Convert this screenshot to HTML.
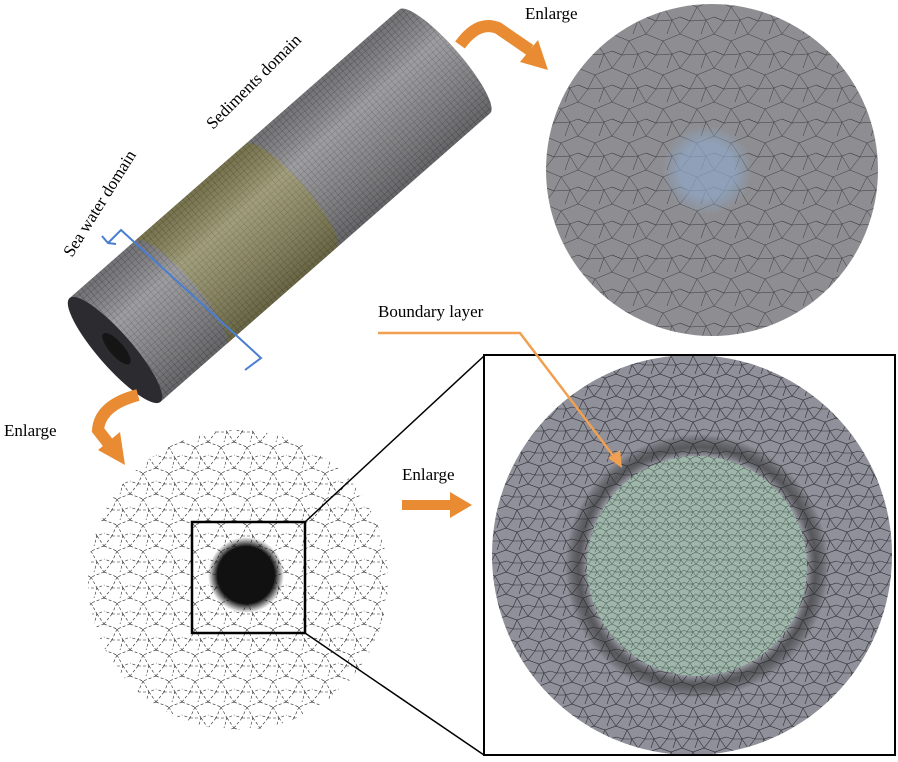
<!DOCTYPE html>
<html><head><meta charset="utf-8"><style>
html,body{margin:0;padding:0;background:#fff;}
svg{display:block;font-family:"Liberation Serif",serif;}
</style></head><body>
<svg width="898" height="762" viewBox="0 0 898 762" xmlns="http://www.w3.org/2000/svg">
<defs>
<pattern id="meshG" width="34" height="34" patternUnits="userSpaceOnUse">
<rect width="34" height="34" fill="#8e8e92"/>
<path d="M0 0L17 7L34 0M17 7L10 21L0 17M17 7L26 20L34 17M10 21L26 20L21 34M10 21L0 34M26 20L34 34M0 17L10 21" stroke="#3a3a3e" stroke-width="0.5" fill="none"/>
</pattern>
<pattern id="meshG2" width="22" height="22" patternUnits="userSpaceOnUse">
<rect width="22" height="22" fill="#8f9099"/>
<path d="M0 0L11 4L22 0M11 4L7 13L0 11M11 4L16 13L22 11M7 13L16 13L13 22M7 13L0 22M16 13L22 22" stroke="#2e2e34" stroke-width="0.6" fill="none"/>
</pattern>
<pattern id="meshGreen" width="12" height="12" patternUnits="userSpaceOnUse">
<rect width="12" height="12" fill="#9fb7ab"/>
<path d="M0 0L6 3L12 0M6 3L3 8L0 6M6 3L9 8L12 6M3 8L9 8L7 12M3 8L0 12M9 8L12 12" stroke="#3c4a44" stroke-width="0.5" fill="none"/>
</pattern>
<pattern id="meshW" width="26" height="26" patternUnits="userSpaceOnUse">
<rect width="26" height="26" fill="#fff"/>
<path d="M0 0L13 5L26 0M13 5L8 16L0 13M13 5L19 16L26 13M8 16L19 16L16 26M8 16L0 26M19 16L26 26" stroke="#222" stroke-width="0.6" stroke-dasharray="3 2" fill="none"/>
</pattern>
<pattern id="cyl" width="5" height="5" patternUnits="userSpaceOnUse">
<rect width="5" height="5" fill="#86868a"/>
<path d="M0 0H5M0 0V5" stroke="#3c3c40" stroke-width="0.6"/>
</pattern>
<pattern id="cylY" width="5" height="5" patternUnits="userSpaceOnUse">
<rect width="5" height="5" fill="#8a865a"/>
<path d="M0 0H5M0 0V5" stroke="#4a4830" stroke-width="0.6"/>
</pattern>
<linearGradient id="shade" x1="0" y1="0" x2="0" y2="1">
<stop offset="0" stop-color="#000" stop-opacity="0.15"/>
<stop offset="0.35" stop-color="#fff" stop-opacity="0.2"/>
<stop offset="1" stop-color="#000" stop-opacity="0.25"/>
</linearGradient>
<radialGradient id="blob" cx="50%" cy="50%" r="50%">
<stop offset="75%" stop-color="#111"/>
<stop offset="100%" stop-color="#111" stop-opacity="0"/>
</radialGradient>
<radialGradient id="ring" cx="50%" cy="50%" r="50%">
<stop offset="84%" stop-color="#000" stop-opacity="0"/>
<stop offset="90%" stop-color="#333" stop-opacity="0.6"/>
<stop offset="100%" stop-color="#000" stop-opacity="0"/>
</radialGradient>
<radialGradient id="bluec" cx="50%" cy="50%" r="50%">
<stop offset="60%" stop-color="#8fa8c8" stop-opacity="0.7"/>
<stop offset="100%" stop-color="#8fa8c8" stop-opacity="0"/>
</radialGradient>
<clipPath id="boxclip"><rect x="485" y="356" width="409" height="398"/></clipPath>
</defs>

<!-- cylinder -->
<g transform="translate(115,350) rotate(-41.2)">
<path d="M0 -69 L438 -69 A16 69 0 0 1 438 69 L0 69 Z" fill="url(#cyl)"/>
<path d="M87 -69 L234 -69 A16 69 0 0 1 234 69 L87 69 A16 69 0 0 0 87 -69 Z" fill="url(#cylY)"/>
<path d="M0 -69 L438 -69 A16 69 0 0 1 438 69 L0 69 Z" fill="url(#shade)"/>
<ellipse cx="0" cy="0" rx="17" ry="69" fill="#2c2c30"/>
<ellipse cx="2" cy="0" rx="7" ry="20" fill="#151515"/>
</g>
<polyline points="108,243 121,230 261,358 245,370" fill="none" stroke="#4a7ed0" stroke-width="2"/>
<polyline points="102,236 108,243 116,244" fill="none" stroke="#4a7ed0" stroke-width="2"/>
<text transform="translate(72,258) rotate(-58)" font-size="17">Sea water domain</text>
<text transform="translate(213,130) rotate(-45)" font-size="17">Sediments domain</text>

<!-- top right circle -->
<circle cx="712" cy="170" r="166" fill="url(#meshG)"/>
<circle cx="707" cy="170" r="45" fill="url(#bluec)"/>
<text x="525" y="19" font-size="17">Enlarge</text>
<path d="M460 45 Q478 20 498 28 L530 50" fill="none" stroke="#e88b32" stroke-width="12"/>
<polygon points="548,70 520,62 538,40" fill="#e88b32"/>

<!-- bottom left -->
<circle cx="238" cy="580" r="150" fill="url(#meshW)"/>
<circle cx="246" cy="575" r="38" fill="url(#blob)"/>
<rect x="192" y="522" width="113" height="111" fill="none" stroke="#000" stroke-width="2.5"/>
<line x1="305" y1="522" x2="484" y2="356" stroke="#000" stroke-width="1.5"/>
<line x1="305" y1="633" x2="484" y2="755" stroke="#000" stroke-width="1.5"/>
<text x="4" y="436" font-size="17">Enlarge</text>
<path d="M138 395 Q100 405 98 430 L112 448" fill="none" stroke="#e88b32" stroke-width="12"/>
<polygon points="125,465 98,450 120,432" fill="#e88b32"/>
<text x="402" y="480" font-size="17">Enlarge</text>
<rect x="402" y="500" width="50" height="10" fill="#e88b32"/>
<polygon points="450,492 472,505 450,518" fill="#e88b32"/>

<!-- big box -->
<rect x="484" y="355" width="411" height="400" fill="#fff" stroke="#000" stroke-width="2"/>
<g clip-path="url(#boxclip)">
<circle cx="692" cy="555" r="200" fill="url(#meshG2)"/>
<circle cx="697" cy="566" r="132" fill="url(#ring)"/>
<circle cx="697" cy="566" r="110" fill="url(#meshGreen)"/>
</g>

<text x="378" y="317" font-size="17">Boundary layer</text>
<polyline points="378,333 520,333 615,458" fill="none" stroke="#f0a050" stroke-width="2.5"/>
<polygon points="622,468 608,458 620,450" fill="#f0a050"/>
</svg>
</body></html>
